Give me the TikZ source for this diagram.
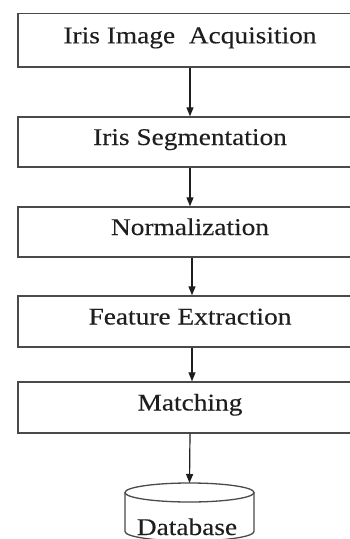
\documentclass[tikz,border=0pt]{standalone}
\usepackage{fontspec}
\setmainfont[FakeStretch=1.14, FakeBold=0.2]{Liberation Serif}
\usetikzlibrary{arrows.meta}
\definecolor{edgegray}{HTML}{4A4A4A}
\definecolor{inkblack}{HTML}{1E1E1E}
\tikzset{
  stage/.style={draw=edgegray, line width=1.4pt, fill=white,
    minimum width=344pt, inner sep=0pt, text=inkblack,
    text height=17pt, text depth=11pt,
    font=\fontsize{24}{24}\selectfont},
  flow/.style={draw=inkblack, line width=1.2pt,
    -{Triangle[width=7pt,length=9pt]}},
  store/.style={draw=edgegray, line width=1.3pt, fill=white},
}
\begin{document}
\begin{tikzpicture}[x=1pt, y=-1pt]
  \useasboundingbox (0,0) rectangle (350,539);
  \clip (0,0) rectangle (350,539);

  % processing stages (their right edges run off the page)
  \node[stage, minimum height=53.5pt] (acq) at (190,40.3) {Iris Image~ Acquisition};
  \node[stage, minimum height=50pt]   (seg) at (190,142)  {Iris Segmentation};
  \node[stage, minimum height=50pt]   (nor) at (190,232)  {Normalization};
  \node[stage, minimum height=51pt]   (fea) at (190,321.5){Feature Extraction};
  \node[stage, minimum height=51pt]   (mat) at (190,407.5){Matching};

  % database drum
  \draw[store] (125,492.5) -- (125,531.5) arc[start angle=180, end angle=0,
      x radius=64.5, y radius=9.5] -- (254,492.5);
  \draw[store] (189.5,492.5) ellipse[x radius=64.5, y radius=9.5];
  \coordinate (dbtop) at (189.5,483);
  \node[font=\fontsize{24}{24}\selectfont, text=inkblack, anchor=base,
        inner sep=0pt] (db) at (187,535) {Database};

  % connectors
  \draw[flow] (acq.south -| 190,0) -- (seg.north -| 190,0);
  \draw[flow] (seg.south -| 190,0) -- (nor.north -| 190,0);
  \draw[flow] (nor.south -| 192,0) -- (fea.north -| 192,0);
  \draw[flow] (fea.south -| 192,0) -- (mat.north -| 192,0);
  \draw[flow] (mat.south -| 190,0) -- (dbtop);
\end{tikzpicture}
\end{document}
